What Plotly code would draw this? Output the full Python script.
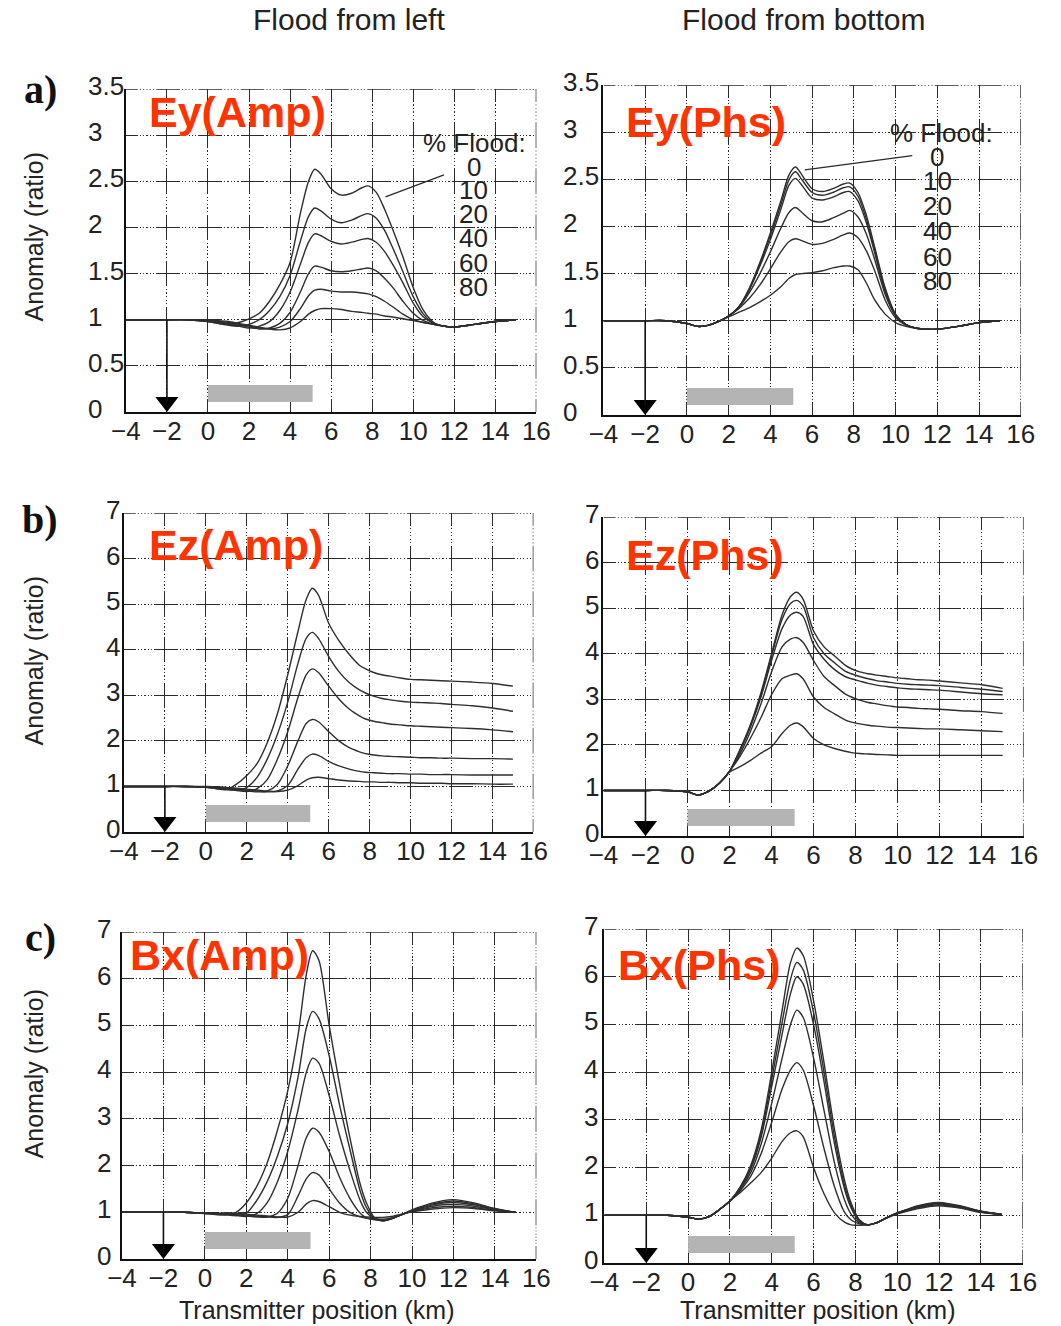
import plotly.graph_objects as go

FIG_W, FIG_H = 1061, 1326

# ---------------- data ----------------
x_km = [-4, -2, -1, 0, 0.5, 1, 1.5, 2, 2.5, 3, 3.5, 4, 4.5, 4.9, 5.2, 5.5, 6, 6.5, 7,
        7.5, 7.8, 8.2, 8.6, 9, 9.5, 10, 10.5, 11, 11.5, 12, 13, 14, 15]
flood_levels = ["0", "10", "20", "40", "60", "80"]
x_ticks = [-4, -2, 0, 2, 4, 6, 8, 10, 12, 14, 16]
y_ticks_ey = [0, 0.5, 1, 1.5, 2, 2.5, 3, 3.5]
y_ticks_ez = [0, 1, 2, 3, 4, 5, 6, 7]
reservoir_km = [0, 5.1]
receiver_km = -2

ey_amp = [
    [1, 1, 1, 0.98, 0.96, 0.95, 0.97, 1.01, 1.07, 1.2, 1.38, 1.62, 2.15, 2.5, 2.63, 2.58, 2.42, 2.35, 2.37, 2.43, 2.45, 2.38, 2.2, 1.98, 1.68, 1.35, 1.1, 0.97, 0.93, 0.92, 0.95, 0.98, 1.0],
    [1, 1, 1, 0.98, 0.96, 0.94, 0.93, 0.95, 1.0, 1.1, 1.25, 1.48, 1.85, 2.12, 2.21, 2.18, 2.09, 2.05, 2.08, 2.13, 2.15, 2.1, 1.97, 1.78, 1.52, 1.25, 1.06, 0.96, 0.93, 0.92, 0.95, 0.98, 1.0],
    [1, 1, 1, 0.98, 0.97, 0.95, 0.93, 0.91, 0.93, 0.98, 1.1, 1.3, 1.6, 1.84, 1.93, 1.91, 1.85, 1.82, 1.84, 1.87, 1.88, 1.84, 1.74, 1.6, 1.4, 1.18, 1.03, 0.96, 0.93, 0.92, 0.95, 0.98, 1.0],
    [1, 1, 1, 0.99, 0.98, 0.96, 0.94, 0.92, 0.9, 0.91, 0.96, 1.08, 1.3, 1.5, 1.58, 1.57, 1.53, 1.52, 1.53, 1.55, 1.56, 1.53, 1.45, 1.35, 1.2, 1.07, 0.99, 0.95, 0.93, 0.92, 0.95, 0.98, 1.0],
    [1, 1, 1, 0.99, 0.98, 0.97, 0.95, 0.93, 0.91, 0.9, 0.92, 0.98, 1.12, 1.26, 1.32, 1.33, 1.31, 1.3, 1.3, 1.29, 1.28, 1.25, 1.2, 1.14, 1.06, 1.0, 0.97, 0.95, 0.93, 0.92, 0.95, 0.98, 1.0],
    [1, 1, 1, 1.0, 0.99, 0.98, 0.96, 0.94, 0.92, 0.9, 0.89, 0.91, 0.98, 1.06, 1.1, 1.12, 1.12, 1.11, 1.09, 1.08, 1.07, 1.06, 1.04, 1.03, 1.01, 0.99, 0.97, 0.95, 0.93, 0.92, 0.95, 0.98, 1.0],
]
ey_phs = [
    [1, 1, 1, 0.97, 0.94, 0.95, 0.99, 1.05, 1.15, 1.35, 1.62, 1.93, 2.27, 2.55, 2.63, 2.55, 2.4, 2.37, 2.4, 2.45, 2.46, 2.36, 2.12, 1.78, 1.35, 1.07, 0.96, 0.92, 0.91, 0.91, 0.94, 0.98, 1.0],
    [1, 1, 1, 0.97, 0.94, 0.95, 0.99, 1.05, 1.15, 1.34, 1.6, 1.9, 2.23, 2.5, 2.58, 2.5, 2.36, 2.33, 2.36, 2.41, 2.42, 2.32, 2.08, 1.75, 1.33, 1.06, 0.96, 0.92, 0.91, 0.91, 0.94, 0.98, 1.0],
    [1, 1, 1, 0.97, 0.94, 0.95, 0.99, 1.05, 1.15, 1.33, 1.58, 1.86, 2.18, 2.44, 2.51, 2.44, 2.3, 2.28, 2.31, 2.36, 2.37, 2.27, 2.04, 1.72, 1.31, 1.06, 0.96, 0.92, 0.91, 0.91, 0.94, 0.98, 1.0],
    [1, 1, 1, 0.97, 0.94, 0.95, 0.99, 1.05, 1.14, 1.3, 1.5, 1.73, 1.98, 2.15, 2.2, 2.15, 2.06, 2.05, 2.09, 2.14, 2.17, 2.1, 1.92, 1.65, 1.28, 1.05, 0.96, 0.92, 0.91, 0.91, 0.94, 0.98, 1.0],
    [1, 1, 1, 0.97, 0.94, 0.95, 0.99, 1.05, 1.13, 1.24, 1.38, 1.55, 1.73, 1.84, 1.87, 1.85, 1.81, 1.82, 1.86, 1.91, 1.93, 1.88, 1.74, 1.53, 1.22, 1.03, 0.95, 0.92, 0.91, 0.91, 0.94, 0.98, 1.0],
    [1, 1, 1, 0.97, 0.94, 0.95, 0.99, 1.04, 1.09, 1.14, 1.2, 1.27, 1.36, 1.45, 1.49, 1.5, 1.51, 1.53, 1.56, 1.58, 1.58, 1.54, 1.4, 1.22, 1.07, 0.98, 0.94, 0.92, 0.91, 0.91, 0.94, 0.98, 1.0],
]
ez_amp = [
    [1, 1, 1, 0.98, 0.95, 0.93, 1.05, 1.24, 1.5, 1.96, 2.6, 3.45, 4.4, 5.1, 5.35, 5.2, 4.58, 4.2, 3.9, 3.66, 3.58, 3.5, 3.45, 3.42, 3.38, 3.35, 3.34, 3.33, 3.32, 3.31, 3.29, 3.26, 3.2],
    [1, 1, 1, 0.98, 0.96, 0.93, 0.92, 0.98, 1.2, 1.6, 2.15, 2.85, 3.7, 4.25, 4.38, 4.25, 3.85, 3.52, 3.28, 3.12, 3.05, 2.98, 2.93, 2.9, 2.87, 2.85, 2.84, 2.83, 2.82, 2.8, 2.77, 2.72, 2.65],
    [1, 1, 1, 0.99, 0.97, 0.94, 0.91, 0.89, 0.95, 1.15, 1.6, 2.2, 2.95, 3.45, 3.58, 3.5, 3.2, 2.92, 2.7, 2.55, 2.48, 2.43, 2.4, 2.37, 2.35, 2.33, 2.32, 2.31, 2.3, 2.29, 2.27, 2.24, 2.2],
    [1, 1, 1, 0.99, 0.98, 0.96, 0.93, 0.9, 0.88, 0.9, 1.05, 1.45, 2.0, 2.38, 2.47, 2.42, 2.2, 2.0, 1.85, 1.76, 1.72, 1.69, 1.67, 1.66, 1.65, 1.64, 1.63, 1.63, 1.62, 1.62, 1.61, 1.61, 1.6],
    [1, 1, 1, 0.99, 0.98, 0.97, 0.95, 0.92, 0.9, 0.88, 0.9, 1.02, 1.38, 1.63, 1.71, 1.68, 1.55, 1.45, 1.38, 1.33, 1.31, 1.3, 1.29, 1.28, 1.28, 1.27, 1.27, 1.26, 1.26, 1.26, 1.25, 1.25, 1.25],
    [1, 1, 1, 1.0, 0.99, 0.98, 0.96, 0.94, 0.92, 0.9, 0.89, 0.92, 1.02, 1.14, 1.19, 1.2, 1.17, 1.14, 1.12, 1.11, 1.1, 1.1, 1.09, 1.09, 1.08, 1.08, 1.07, 1.07, 1.07, 1.06, 1.06, 1.05, 1.05],
]
ez_phs = [
    [1, 1, 1, 0.97, 0.9, 0.98, 1.15, 1.42, 1.9, 2.45, 3.15, 4.0, 4.85, 5.25, 5.35, 5.2, 4.5, 4.15, 3.95, 3.75, 3.67, 3.6, 3.56, 3.53, 3.5, 3.47, 3.45, 3.43, 3.42, 3.4, 3.36, 3.32, 3.24],
    [1, 1, 1, 0.97, 0.9, 0.98, 1.15, 1.42, 1.88, 2.42, 3.1, 3.95, 4.75, 5.1, 5.17, 5.05, 4.35, 4.0, 3.8, 3.62, 3.56, 3.5, 3.45, 3.41, 3.38, 3.35, 3.33, 3.32, 3.31, 3.3, 3.26, 3.22, 3.17],
    [1, 1, 1, 0.97, 0.9, 0.98, 1.15, 1.42, 1.86, 2.4, 3.05, 3.85, 4.55, 4.85, 4.91, 4.82, 4.2, 3.88, 3.65, 3.5, 3.45, 3.4, 3.35, 3.31, 3.28, 3.25, 3.23, 3.22, 3.21, 3.2, 3.16, 3.12, 3.1],
    [1, 1, 1, 0.97, 0.9, 0.98, 1.15, 1.42, 1.8, 2.3, 2.9, 3.6, 4.15, 4.32, 4.35, 4.25, 3.85, 3.5, 3.3, 3.12, 3.05, 2.98, 2.93, 2.9, 2.86, 2.83, 2.82, 2.8, 2.79, 2.78, 2.75, 2.73, 2.69],
    [1, 1, 1, 0.97, 0.9, 0.98, 1.15, 1.42, 1.75, 2.15, 2.6, 3.1, 3.45, 3.53, 3.56, 3.45, 3.05, 2.82, 2.68, 2.55, 2.5, 2.46, 2.43, 2.41, 2.39, 2.38, 2.37, 2.36, 2.35, 2.35, 2.33, 2.31, 2.29],
    [1, 1, 1, 0.97, 0.9, 0.98, 1.15, 1.4, 1.52, 1.66, 1.82, 1.96, 2.25, 2.43, 2.48, 2.4, 2.14, 2.0, 1.92, 1.86, 1.83, 1.81, 1.8, 1.79, 1.78, 1.77, 1.77, 1.77, 1.77, 1.77, 1.77, 1.77, 1.77],
]
bx_amp = [
    [1, 1, 1, 0.97, 0.95, 0.94, 1.0, 1.2, 1.55, 2.05, 2.75, 3.6, 4.8, 6.1, 6.6, 6.4, 5.0, 3.75, 2.6, 1.6, 1.2, 0.88, 0.82, 0.86, 0.95, 1.05, 1.13, 1.2, 1.25, 1.27, 1.2, 1.08, 1.0],
    [1, 1, 1, 0.98, 0.97, 0.95, 0.93, 0.98, 1.25, 1.65, 2.2, 2.9, 3.9, 4.95, 5.3, 5.15, 4.35, 3.3, 2.35, 1.45, 1.1, 0.87, 0.82, 0.86, 0.95, 1.04, 1.11, 1.18, 1.22, 1.24, 1.18, 1.07, 1.0],
    [1, 1, 1, 0.98, 0.97, 0.96, 0.93, 0.91, 0.97, 1.2, 1.65, 2.3, 3.2, 4.0, 4.3, 4.2, 3.5, 2.65, 1.9, 1.25, 1.0, 0.86, 0.82, 0.86, 0.95, 1.04, 1.1, 1.16, 1.2, 1.21, 1.16, 1.06, 1.0],
    [1, 1, 1, 0.98, 0.97, 0.97, 0.95, 0.92, 0.9, 0.9, 0.98, 1.3, 2.0, 2.6, 2.8, 2.72, 2.3, 1.75, 1.3, 0.98, 0.88, 0.84, 0.83, 0.87, 0.95, 1.03, 1.08, 1.13, 1.16, 1.17, 1.13, 1.05, 1.0],
    [1, 1, 1, 0.98, 0.97, 0.98, 0.96, 0.94, 0.92, 0.9, 0.89, 0.95, 1.35, 1.72, 1.85, 1.8, 1.5, 1.2, 1.0, 0.9, 0.87, 0.86, 0.85, 0.88, 0.95, 1.02, 1.06, 1.1, 1.12, 1.13, 1.1, 1.04, 1.0],
    [1, 1, 1, 0.98, 0.97, 0.99, 0.98, 0.96, 0.94, 0.92, 0.9, 0.9, 1.0, 1.18, 1.25, 1.23, 1.12, 1.0, 0.94, 0.91, 0.9, 0.89, 0.89, 0.91, 0.96, 1.01, 1.04, 1.07, 1.09, 1.1, 1.08, 1.03, 1.0],
]
bx_phs = [
    [1, 1, 1, 0.96, 0.92, 0.97, 1.12, 1.3, 1.6, 2.05, 2.8, 4.0, 5.3, 6.3, 6.6, 6.45, 5.5, 4.2, 2.8, 1.7, 1.25, 0.9, 0.8, 0.84, 0.95, 1.05, 1.13, 1.2, 1.25, 1.27, 1.2, 1.09, 1.02],
    [1, 1, 1, 0.96, 0.92, 0.97, 1.12, 1.3, 1.58, 2.0, 2.72, 3.85, 5.05, 5.95, 6.3, 6.15, 5.25, 4.0, 2.65, 1.6, 1.2, 0.88, 0.8, 0.84, 0.95, 1.05, 1.12, 1.19, 1.24, 1.26, 1.19, 1.08, 1.02],
    [1, 1, 1, 0.96, 0.92, 0.97, 1.12, 1.3, 1.57, 1.97, 2.65, 3.7, 4.8, 5.65, 6.0, 5.85, 5.0, 3.8, 2.5, 1.52, 1.15, 0.86, 0.8, 0.84, 0.95, 1.05, 1.12, 1.18, 1.23, 1.25, 1.18, 1.08, 1.02],
    [1, 1, 1, 0.96, 0.92, 0.97, 1.12, 1.3, 1.55, 1.9, 2.5, 3.35, 4.3, 5.0, 5.3, 5.15, 4.3, 3.2, 2.1, 1.3, 1.02, 0.84, 0.8, 0.84, 0.95, 1.04, 1.11, 1.17, 1.22, 1.24, 1.17, 1.07, 1.02],
    [1, 1, 1, 0.96, 0.92, 0.97, 1.12, 1.3, 1.52, 1.82, 2.3, 2.95, 3.65, 4.05, 4.2, 4.05, 3.3, 2.4, 1.6, 1.05, 0.9, 0.82, 0.8, 0.84, 0.95, 1.04, 1.1, 1.16, 1.2, 1.22, 1.16, 1.07, 1.02],
    [1, 1, 1, 0.96, 0.92, 0.97, 1.12, 1.3, 1.48, 1.68, 1.9, 2.2, 2.55, 2.73, 2.77, 2.65, 2.0, 1.45, 1.05, 0.85, 0.8, 0.79, 0.8, 0.84, 0.94, 1.03, 1.09, 1.14, 1.18, 1.2, 1.15, 1.06, 1.02],
]

panel_series = [ey_amp, ey_phs, ez_amp, ez_phs, bx_amp, bx_phs]
panel_names = ["Ey(Amp)", "Ey(Phs)", "Ez(Amp)", "Ez(Phs)", "Bx(Amp)", "Bx(Phs)"]
panel_yticks = [y_ticks_ey, y_ticks_ey, y_ticks_ez, y_ticks_ez, y_ticks_ez, y_ticks_ez]

# ---------------- geometry (pixels) ----------------
panel_px = [(114, 536, 89, 412), (605, 1034, 85, 415),
            (112, 533, 513, 832), (605, 1037, 517, 836),
            (110, 536, 932, 1259), (606, 1036, 929, 1263)]
ylab_left_px = [73, 561, 91, 584, 82, 583]
name_pos_px = [(136, 112), (626, 122), (136, 545), (626, 555), (116, 955), (618, 965)]

FONT = "Liberation Sans, Arial, Helvetica, sans-serif"
INK = "#2a2a2a"


def grid_dash(S, frac=0.28, dot=1.2, gap=1.9):
    h = frac * S
    avail = S - 2 * h
    n = int((avail - gap) // (dot + gap))
    g = (avail - n * dot) / (n + 1)
    parts = [h]
    for _ in range(n):
        parts += [g, dot]
    parts += [g, h, 0]
    return ",".join(f"{p:.3f}px" for p in parts)


fig = go.Figure()
layout = dict(width=FIG_W, height=FIG_H, margin=dict(l=0, r=0, t=0, b=0),
              paper_bgcolor="white", plot_bgcolor="white", showlegend=False,
              font=dict(family=FONT, color="#222222"))
shapes, annotations = [], []

for i in range(6):
    n = i + 1
    xs = "" if n == 1 else str(n)
    x0, x1, yt, yb = panel_px[i]
    yt_vals = panel_yticks[i]
    ymax = yt_vals[-1]
    W, H = x1 - x0, yb - yt
    sx = W / (len(x_ticks) - 1)
    sy = H / (len(yt_vals) - 1)
    ppu_y = H / ymax
    hdash = grid_dash(sx)
    vdash = grid_dash(sy)
    layout["xaxis" + xs] = dict(
        domain=[x0 / FIG_W, x1 / FIG_W], anchor="y" + xs, range=[x_ticks[0], x_ticks[-1]],
        tickmode="array", tickvals=x_ticks, ticks="", showgrid=True, gridcolor=INK,
        gridwidth=1.4, griddash=vdash, showline=True, linecolor="#111111", linewidth=2,
        zeroline=False, tickfont=dict(size=26, family=FONT, color="#222222"),
        ticklabelstandoff=-5, fixedrange=True)
    layout["yaxis" + xs] = dict(
        domain=[1 - yb / FIG_H, 1 - yt / FIG_H], anchor="x" + xs, range=[0, ymax],
        tickmode="array", tickvals=yt_vals, ticks="", showticklabels=False,
        showgrid=True, gridcolor=INK, gridwidth=1.4, griddash=hdash,
        showline=True, linecolor="#111111", linewidth=2, zeroline=False, fixedrange=True)
    xr, yr = "x" + xs, "y" + xs
    # top and right edges (grid-styled)
    shapes.append(dict(type="line", xref=xr, yref=yr, x0=x_ticks[0], x1=x_ticks[-1], y0=ymax, y1=ymax,
                       line=dict(color=INK, width=1.4, dash=hdash), layer="below"))
    shapes.append(dict(type="line", xref=xr, yref=yr, x0=x_ticks[-1], x1=x_ticks[-1], y0=ymax, y1=0,
                       line=dict(color=INK, width=1.4, dash=vdash), layer="below"))
    # reservoir bar
    shapes.append(dict(type="rect", xref=xr, yref=yr, x0=reservoir_km[0], x1=reservoir_km[1],
                       y0=10 / ppu_y, y1=27 / ppu_y, fillcolor="#b4b4b4", line=dict(width=0), layer="above"))
    # receiver arrow
    tri_y = 10 / ppu_y
    shapes.append(dict(type="line", xref=xr, yref=yr, x0=receiver_km, x1=receiver_km, y0=1, y1=tri_y,
                       line=dict(color="#111111", width=1.6), layer="above"))
    fig.add_trace(go.Scatter(x=[receiver_km], y=[tri_y], xaxis=xr, yaxis=yr, mode="markers",
                             marker=dict(symbol="triangle-down", size=20, color="black"), hoverinfo="skip"))
    # curves
    for vals in panel_series[i]:
        fig.add_trace(go.Scatter(x=x_km, y=vals, xaxis=xr, yaxis=yr, mode="lines",
                                 line=dict(color="#2e2e2e", width=1.4, shape="spline", smoothing=0.8),
                                 hoverinfo="skip"))
    # y tick labels (left aligned)
    for v in yt_vals:
        annotations.append(dict(x=ylab_left_px[i] / FIG_W, xref="paper", y=v, yref=yr,
                                text=f"{v:g}", showarrow=False, xanchor="left", yanchor="middle",
                                yshift=3, font=dict(size=26, family=FONT, color="#222222")))
    # panel name
    nx, ny = name_pos_px[i]
    annotations.append(dict(x=nx / FIG_W, y=1 - ny / FIG_H, xref="paper", yref="paper",
                            text="<b>" + panel_names[i] + "</b>", showarrow=False,
                            xanchor="left", yanchor="middle",
                            font=dict(size=43, family=FONT, color="#FF3300")))

# % Flood legends for row a
legend_a = [  # (axis suffix, header xy, label x, label ys, leader line)
    ("", (13.0, 2.92), 12.95, [2.66, 2.41, 2.15, 1.88, 1.62, 1.35], (8.65, 2.33, 11.5, 2.57)),
    ("2", (12.2, 2.99), 12.0, [2.74, 2.48, 2.22, 1.95, 1.68, 1.42], (5.65, 2.6, 10.8, 2.75)),
]
for xs, (hx, hy), lx, lys, (lx0, ly0, lx1, ly1) in legend_a:
    xr, yr = "x" + xs, "y" + xs
    annotations.append(dict(x=hx, y=hy, xref=xr, yref=yr, text="% Flood:", showarrow=False,
                            font=dict(size=26, family=FONT, color="#222222")))
    for lab, ly in zip(flood_levels, lys):
        annotations.append(dict(x=lx, y=ly, xref=xr, yref=yr, text=lab, showarrow=False,
                                font=dict(size=26, family=FONT, color="#222222")))
    shapes.append(dict(type="line", xref=xr, yref=yr, x0=lx0, y0=ly0, x1=lx1, y1=ly1,
                       line=dict(color=INK, width=1.3)))

# column titles
for txt, cx in [("Flood from left", 343), ("Flood from bottom", 811)]:
    annotations.append(dict(x=cx / FIG_W, y=1 - 20 / FIG_H, xref="paper", yref="paper", text=txt,
                            showarrow=False, xanchor="center", yanchor="middle",
                            font=dict(size=30, family=FONT, color="#222222")))
# row labels
for txt, cy in [("a)", 90), ("b)", 520), ("c)", 937)]:
    annotations.append(dict(x=26 / FIG_W, y=1 - cy / FIG_H, xref="paper", yref="paper", text="<b>" + txt + "</b>",
                            showarrow=False, xanchor="center", yanchor="middle",
                            font=dict(size=40, family="Liberation Serif, Times New Roman, serif", color="#111111")))
# y titles
for cy in [236, 660, 1073]:
    annotations.append(dict(x=20 / FIG_W, y=1 - cy / FIG_H, xref="paper", yref="paper", text="Anomaly (ratio)",
                            showarrow=False, textangle=-90, xanchor="center", yanchor="middle",
                            font=dict(size=25, family=FONT, color="#222222")))
# x titles
for cx in [310, 826]:
    annotations.append(dict(x=cx / FIG_W, y=1 - 1310 / FIG_H, xref="paper", yref="paper",
                            text="Transmitter position (km)", showarrow=False, xanchor="center", yanchor="middle",
                            font=dict(size=25, family=FONT, color="#222222")))

layout["shapes"] = shapes
layout["annotations"] = annotations
fig.update_layout(**layout)
fig.write_html("out.html")
